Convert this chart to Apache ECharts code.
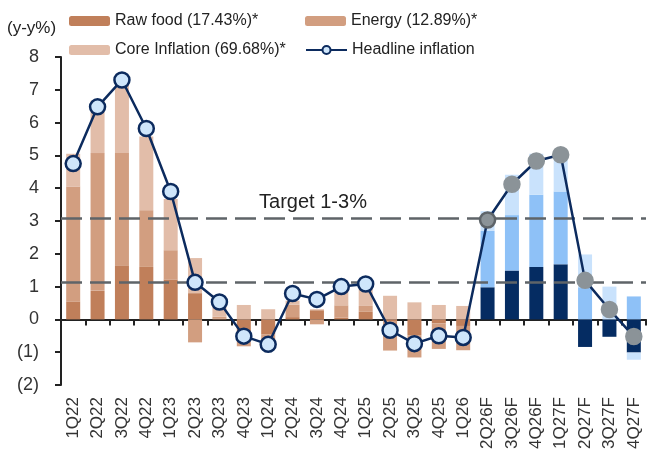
<!DOCTYPE html>
<html>
<head>
<meta charset="utf-8">
<script src="https://cdn.jsdelivr.net/npm/echarts@6/dist/echarts.min.js"></script>
<style>
html, body { margin: 0; padding: 0; background: #fff; }
#main { width: 647px; height: 466px; }
</style>
</head>
<body>
<div id="main"></div>
<script>
// quarters, actual then forecast
var categories = ['1Q22','2Q22','3Q22','4Q22','1Q23','2Q23','3Q23','4Q23','1Q24','2Q24','3Q24','4Q24',
	'1Q25','2Q25','3Q25','4Q25','1Q26','2Q26F','3Q26F','4Q26F','1Q27F','2Q27F','3Q27F','4Q27F'];
var firstForecast = 17;

// contributions (ppt)
var rawFood = [0.55, 0.87, 1.65, 1.6, 1.22, 0.8, 0.03, -0.55, -0.45, 0.07, 0.28, 0.05,
	0.23, -0.05, -0.48, -0.12, -0.2, 0.98, 1.49, 1.6, 1.68, -0.84, -0.53, -1.01];
var energy = [3.5, 4.2, 3.42, 1.73, 0.89, -0.7, 0.05, -0.27, -0.22, 0.38, -0.15, 0.38,
	0.18, -0.9, -0.68, -0.78, -0.74, 1.72, 1.69, 2.2, 2.22, 0.98, 0, 0.7];
var coreInfl = [1.0, 1.6, 2.1, 2.25, 1.56, 1.07, 0.34, 0.44, 0.31, 0.12, 0.03, 0.55,
	0.6, 0.72, 0.52, 0.44, 0.41, 0.6, 1.23, 1.25, 1.15, 1.0, 1.0, -0.22];
var headline = [4.75, 6.48, 7.3, 5.82, 3.9, 1.13, 0.53, -0.51, -0.76, 0.79, 0.61, 1.0,
	1.08, -0.33, -0.74, -0.5, -0.55, 3.03, 4.12, 4.83, 5.02, 1.19, 0.3, -0.52];
var targetLines = [3.08, 1.12];

var font = 'Liberation Sans, Arial, sans-serif';
var navy = '#0c2b5e';

function barData(values, forecastColor) {
	return values.map(function (v, i) {
		if (i >= firstForecast) {
			return { value: v, itemStyle: { color: forecastColor } };
		}
		return v;
	});
}

var lineData = headline.map(function (v, i) {
	if (i >= firstForecast) {
		return {
			value: v,
			itemStyle: {
				color: '#8b9398',
				borderColor: i === firstForecast ? '#5e6469' : '#8b9398'
			}
		};
	}
	return v;
});

var chart = echarts.init(document.getElementById('main'));

function legendAt(name, left, top) {
	return {
		data: [name],
		left: left,
		top: top,
		padding: 0,
		itemWidth: 41,
		itemHeight: 10,
		selectedMode: false,
		textStyle: { fontFamily: font, fontSize: 16, color: '#222' }
	};
}

var option = {
	animation: false,
	backgroundColor: '#fff',
	legend: [
		legendAt('Raw food (17.43%)*', 69, 13),
		legendAt('Energy (12.89%)*', 305, 13),
		legendAt('Core Inflation (69.68%)*', 69, 42),
		legendAt('Headline inflation', 305, 42)
	],
	grid: { left: 61, right: 1, top: 57, bottom: 81, outerBoundsMode: 'none', containLabel: false },
	graphic: [
		{
			type: 'text', left: 7, top: 20,
			style: { text: '(y-y%)', font: '17px ' + font, fill: '#222' }
		},
		{
			type: 'text', x: 313, y: 202,
			style: { text: 'Target 1-3%', font: '20px ' + font, fill: '#222', textAlign: 'center', textVerticalAlign: 'middle' }
		}
	],
	xAxis: {
		type: 'category',
		data: categories,
		axisLine: { onZero: true, lineStyle: { color: '#222', width: 2 } },
		axisTick: { show: true, length: 6, lineStyle: { color: '#222', width: 2 } },
		axisLabel: { interval: 0, rotate: 90, margin: 12, fontFamily: font, fontSize: 17, color: '#333' },
		splitLine: { show: false }
	},
	yAxis: {
		type: 'value',
		min: -2,
		max: 8,
		interval: 1,
		axisLine: { show: true, lineStyle: { color: '#222', width: 2 } },
		axisTick: { show: true, length: 6, lineStyle: { color: '#222', width: 2 } },
		axisLabel: {
			margin: 22, fontFamily: font, fontSize: 18, color: '#333',
			formatter: function (v) { return v < 0 ? '(' + (-v) + ')' : v; }
		},
		splitLine: { show: false }
	},
	series: [
		{
			name: 'Raw food (17.43%)*',
			type: 'bar',
			stack: 'cpi',
			barWidth: 14,
			itemStyle: { color: '#c07f5a' },
			data: barData(rawFood, '#052c62')
		},
		{
			name: 'Energy (12.89%)*',
			type: 'bar',
			stack: 'cpi',
			barWidth: 14,
			itemStyle: { color: '#d29e80' },
			data: barData(energy, '#8ec1f7')
		},
		{
			name: 'Core Inflation (69.68%)*',
			type: 'bar',
			stack: 'cpi',
			barWidth: 14,
			itemStyle: { color: '#e2bda9' },
			data: barData(coreInfl, '#c9e2fc'),
			markLine: {
				silent: true,
				symbol: ['none', 'none'],
				label: { show: false },
				lineStyle: { color: '#5f6468', width: 2.5, type: [21, 8] },
				data: targetLines.map(function (v) { return { yAxis: v }; })
			}
		},
		{
			name: 'Headline inflation',
			type: 'line',
			symbol: 'circle',
			symbolSize: 15,
			z: 5,
			lineStyle: { color: navy, width: 2.5 },
			itemStyle: { color: '#cfe6fb', borderColor: navy, borderWidth: 2.5 },
			data: lineData
		}
	]
};

chart.setOption(option);
</script>
</body>
</html>
